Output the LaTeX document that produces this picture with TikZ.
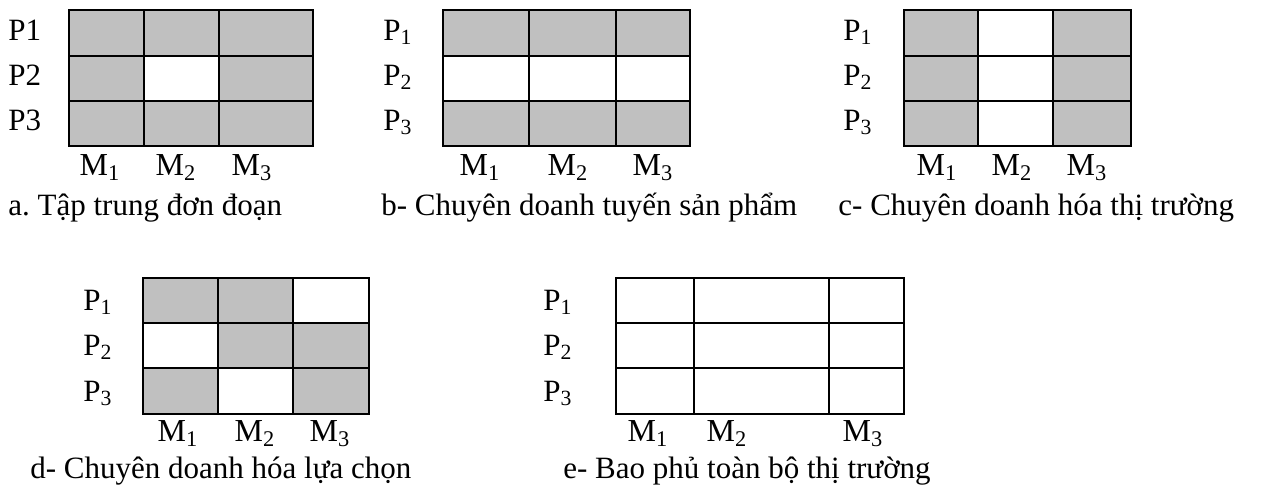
\documentclass[tikz,border=0pt]{standalone}
\usepackage{fontspec}
\setmainfont{Liberation Serif}
\definecolor{CellGray}{RGB}{192,192,192}
\newcommand{\idx}[1]{\textsubscript{#1}}
\frenchspacing

\begin{document}
\begin{tikzpicture}[x=0.5pt, y=-0.5pt,
    gridline/.style={draw=black, line width=1.3pt},
    graycell/.style={fill=CellGray},
    rowlab/.style={anchor=base west, inner sep=0pt, font=\fontsize{15.5}{18}\selectfont},
    collab/.style={anchor=base, inner sep=0pt, font=\fontsize{16}{18}\selectfont},
    caption/.style={anchor=base west, inner sep=0pt, font=\fontsize{15.5}{18}\selectfont}
]
\useasboundingbox (0,0) rectangle (1267,493);

% a. Tap trung don doan
\fill[graycell] (69,10) rectangle (313,146);
\fill[white] (144,56) rectangle (219,101);
\draw[gridline] (69,10) rectangle (313,146);
\foreach \x in {144,219} \draw[gridline] (\x,10) -- (\x,146);
\foreach \y in {56,101} \draw[gridline] (69,\y) -- (313,\y);
\foreach \n/\y in {1/40,2/85,3/130} \node[rowlab] (aP\n) at (8,\y) {P\n};
\foreach \n/\x in {1/100,2/176,3/252} \node[collab] (aM\n) at (\x,175) {M\idx{\n}};
\node[caption] (capA) at (8,215) {a. Tập trung đơn đoạn};

% b- Chuyen doanh tuyen san pham
\fill[graycell] (443,10) rectangle (690,146);
\fill[white] (443,56) rectangle (690,101);
\draw[gridline] (443,10) rectangle (690,146);
\foreach \x in {529,616} \draw[gridline] (\x,10) -- (\x,146);
\foreach \y in {56,101} \draw[gridline] (443,\y) -- (690,\y);
\foreach \n/\y in {1/40,2/85,3/130} \node[rowlab] (bP\n) at (383,\y) {P\idx{\n}};
\foreach \n/\x in {1/480,2/568,3/653} \node[collab] (bM\n) at (\x,175) {M\idx{\n}};
\node[caption] (capB) at (381,215) {b- Chuyên doanh tuyến sản phẩm};

% c- Chuyen doanh hoa thi truong
\fill[graycell] (904,10) rectangle (1131,146);
\fill[white] (978,10) rectangle (1053,146);
\draw[gridline] (904,10) rectangle (1131,146);
\foreach \x in {978,1053} \draw[gridline] (\x,10) -- (\x,146);
\foreach \y in {56,101} \draw[gridline] (904,\y) -- (1131,\y);
\foreach \n/\y in {1/40,2/85,3/130} \node[rowlab] (cP\n) at (843,\y) {P\idx{\n}};
\foreach \n/\x in {1/937,2/1012,3/1087} \node[collab] (cM\n) at (\x,175) {M\idx{\n}};
\node[caption] (capC) at (838,215) {c- Chuyên doanh hóa thị trường};

% d- Chuyen doanh hoa lua chon
\foreach \xa/\ya/\xb/\yb in {143/278/218/323, 218/278/293/323, 218/323/293/368,
    293/323/369/368, 143/368/218/414, 293/368/369/414}
  \fill[graycell] (\xa,\ya) rectangle (\xb,\yb);
\draw[gridline] (143,278) rectangle (369,414);
\foreach \x in {218,293} \draw[gridline] (\x,278) -- (\x,414);
\foreach \y in {323,368} \draw[gridline] (143,\y) -- (369,\y);
\foreach \n/\y in {1/310,2/355,3/401} \node[rowlab] (dP\n) at (83,\y) {P\idx{\n}};
\foreach \n/\x in {1/178,2/255,3/330} \node[collab] (dM\n) at (\x,441) {M\idx{\n}};
\node[caption] (capD) at (30,478) {d- Chuyên doanh hóa lựa chọn};

% e- Bao phu toan bo thi truong
\draw[gridline] (616,278) rectangle (904,414);
\foreach \x in {694,829} \draw[gridline] (\x,278) -- (\x,414);
\foreach \y in {323,368} \draw[gridline] (616,\y) -- (904,\y);
\foreach \n/\y in {1/310,2/355,3/401} \node[rowlab] (eP\n) at (543,\y) {P\idx{\n}};
\foreach \n/\x in {1/648,2/727,3/863} \node[collab] (eM\n) at (\x,441) {M\idx{\n}};
\node[caption] (capE) at (563,478) {e- Bao phủ toàn bộ thị trường};
\end{tikzpicture}
\end{document}
